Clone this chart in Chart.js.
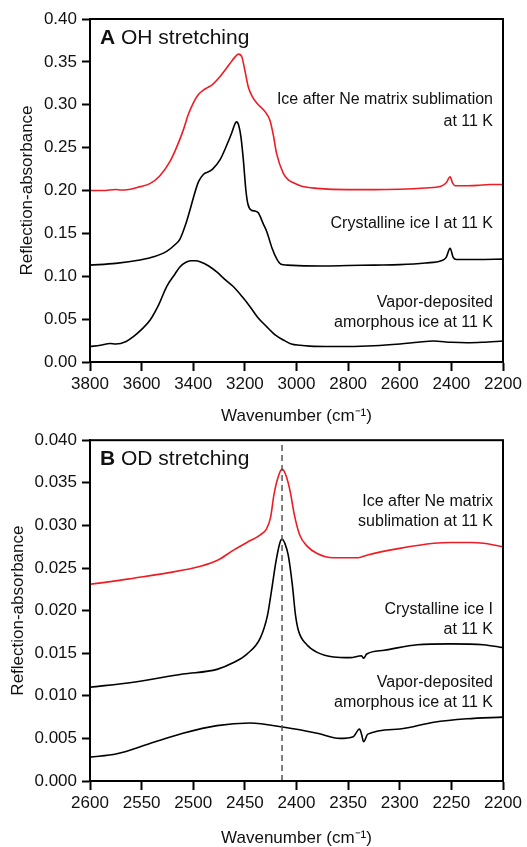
<!DOCTYPE html>
<html>
<head>
<meta charset="utf-8">
<script src="https://cdn.jsdelivr.net/npm/chart.js@4.4.1/dist/chart.umd.min.js"></script>
<style>
  html, body { margin: 0; padding: 0; background: #fff; }
  #wrap { position: relative; width: 527px; height: 847px; }
  #ohCanvas { position: absolute; left: 0; top: 0; }
  #odCanvas { position: absolute; left: 0; top: 425px; }
</style>
</head>
<body>
<div id="wrap">
  <canvas id="ohCanvas" width="527" height="425"></canvas>
  <canvas id="odCanvas" width="527" height="422"></canvas>
</div>
<script>
"use strict";

// ---- Panel A: OH stretching (wavenumber, reflection-absorbance) ----
const ohIceNeX = [3800, 3750, 3700, 3680, 3650, 3606, 3568, 3530, 3490, 3465, 3438, 3420, 3400, 3380, 3361, 3345, 3328, 3296, 3258, 3240, 3225, 3212, 3200, 3187, 3170, 3154, 3122, 3103, 3090, 3077, 3051, 3030, 3012, 2980, 2921, 2800, 2700, 2600, 2500, 2440, 2420, 2405, 2395, 2385, 2350, 2300, 2250, 2200];
const ohIceNeY = [0.200, 0.200, 0.2012, 0.2005, 0.2012, 0.2045, 0.208, 0.217, 0.234, 0.250, 0.271, 0.288, 0.302, 0.312, 0.317, 0.320, 0.323, 0.333, 0.348, 0.355, 0.359, 0.356, 0.340, 0.321, 0.309, 0.302, 0.292, 0.282, 0.265, 0.243, 0.220, 0.212, 0.209, 0.205, 0.2025, 0.201, 0.201, 0.2015, 0.203, 0.205, 0.209, 0.216, 0.2085, 0.2055, 0.2055, 0.206, 0.207, 0.207];

const ohCrystX = [3800, 3700, 3606, 3550, 3503, 3470, 3452, 3430, 3413, 3400, 3380, 3360, 3340, 3325, 3296, 3270, 3250, 3238, 3232, 3224, 3215, 3206, 3196, 3188, 3175, 3160, 3148, 3130, 3115, 3095, 3076, 3060, 3037, 2900, 2800, 2700, 2600, 2500, 2440, 2420, 2405, 2393, 2380, 2300, 2200];
const ohCrystY = [0.113, 0.115, 0.119, 0.123, 0.129, 0.137, 0.143, 0.160, 0.177, 0.191, 0.210, 0.219, 0.222, 0.225, 0.236, 0.253, 0.268, 0.278, 0.280, 0.276, 0.262, 0.236, 0.200, 0.184, 0.177, 0.176, 0.174, 0.162, 0.152, 0.133, 0.120, 0.114, 0.113, 0.112, 0.1125, 0.113, 0.1135, 0.1155, 0.118, 0.122, 0.1326, 0.122, 0.1195, 0.1195, 0.120];

const ohAmorphX = [3800, 3760, 3722, 3700, 3660, 3632, 3600, 3567, 3535, 3503, 3470, 3451, 3430, 3410, 3390, 3374, 3340, 3309, 3280, 3245, 3210, 3180, 3150, 3115, 3080, 3051, 3020, 2986, 2950, 2857, 2700, 2599, 2530, 2470, 2400, 2340, 2280, 2200];
const ohAmorphY = [0.018, 0.0195, 0.0215, 0.021, 0.024, 0.0295, 0.038, 0.049, 0.066, 0.088, 0.103, 0.111, 0.116, 0.118, 0.118, 0.117, 0.112, 0.105, 0.097, 0.088, 0.076, 0.0645, 0.052, 0.041, 0.031, 0.0257, 0.021, 0.0195, 0.0185, 0.018, 0.019, 0.021, 0.023, 0.0245, 0.023, 0.0225, 0.023, 0.0245];

// ---- Panel B: OD stretching ----
const odIceNeX = [2600, 2580, 2558, 2526, 2493, 2475, 2461, 2448, 2435, 2429, 2425, 2422, 2418, 2414, 2410, 2406, 2402, 2397, 2390, 2380, 2364, 2350, 2340, 2332, 2300, 2267, 2251, 2230, 2219, 2200];
const odIceNeY = [0.0231, 0.0234, 0.0238, 0.0244, 0.0252, 0.0260, 0.0271, 0.0280, 0.0289, 0.0296, 0.0310, 0.0335, 0.0356, 0.0366, 0.0358, 0.0339, 0.0312, 0.0289, 0.0276, 0.0267, 0.0262, 0.0262, 0.0262, 0.0265, 0.0273, 0.0279, 0.0280, 0.0280, 0.0279, 0.0275];

const odCrystX = [2600, 2558, 2510, 2477, 2461, 2448, 2435, 2428, 2424, 2420, 2416, 2414, 2411, 2408, 2404, 2401, 2398, 2390, 2380, 2364, 2348, 2337, 2335, 2332, 2315, 2283, 2251, 2219, 2200];
const odCrystY = [0.0110, 0.0116, 0.01255, 0.0131, 0.0139, 0.0149, 0.0168, 0.0195, 0.0225, 0.0257, 0.0280, 0.0284, 0.0278, 0.0265, 0.0230, 0.0195, 0.0176, 0.0160, 0.0151, 0.01456, 0.01448, 0.0147, 0.0144, 0.0149, 0.01534, 0.0160, 0.0161, 0.0160, 0.01565];

const odAmorphX = [2600, 2574, 2542, 2510, 2477, 2445, 2412, 2380, 2358, 2345, 2339, 2337, 2335, 2331, 2300, 2267, 2235, 2200];
const odAmorphY = [0.0028, 0.0032, 0.0044, 0.0056, 0.0065, 0.0068, 0.0063, 0.0056, 0.0050, 0.0052, 0.0061, 0.0055, 0.0046, 0.0055, 0.0061, 0.0069, 0.0073, 0.0075];

// OD peak marker (dashed line)
const odPeakX = [2414, 2414];
const odPeakY = [0, 0.040];

// axis ranges / ticks
const ohXRange = [2200, 3800], ohXStep = 200;
const ohYRange = [0, 0.40], ohYStep = 0.05;
const odXRange = [2200, 2600], odXStep = 50;
const odYRange = [0, 0.040], odYStep = 0.005;

// text labels: lines and their y value (right aligned in plot)
const ohLabelText = ['Ice after Ne matrix sublimation', 'at 11 K', 'Crystalline ice I at 11 K', 'Vapor-deposited', 'amorphous ice at 11 K'];
const ohLabelY    = [0.3055, 0.2802, 0.1617, 0.0688, 0.0458];
const odLabelText = ['Ice after Ne matrix', 'sublimation at 11 K', 'Crystalline ice I', 'at 11 K', 'Vapor-deposited', 'amorphous ice at 11 K'];
const odLabelY    = [0.03274, 0.03049, 0.02012, 0.01779, 0.01157, 0.00924];

const FONT = "'Liberation Sans', Arial, Helvetica, sans-serif";
const RED = '#ee1c24';

const pairs = (xs, ys) => xs.map((x, i) => ({ x, y: ys[i] }));

function curve(xs, ys, color) {
  return {
    data: pairs(xs, ys),
    borderColor: color,
    borderWidth: 1.6,
    pointRadius: 0,
    fill: false,
    cubicInterpolationMode: 'monotone'
  };
}

// frame + annotation text
const panelDecor = {
  id: 'panelDecor',
  afterDraw(chart, args, opts) {
    const { ctx, chartArea: a, scales } = chart;
    ctx.save();
    ctx.strokeStyle = '#000';
    ctx.lineWidth = 2;
    ctx.strokeRect(a.left, a.top, a.right - a.left, a.bottom - a.top);

    ctx.fillStyle = '#111';
    ctx.textAlign = 'right';
    ctx.textBaseline = 'middle';
    ctx.font = '16px ' + FONT;
    opts.text.forEach((t, i) => {
      ctx.fillText(t, a.right - 10, scales.y.getPixelForValue(opts.ty[i]));
    });

    // panel title: bold letter + normal text
    const ty = scales.y.getPixelForValue(opts.titleY);
    ctx.textAlign = 'left';
    ctx.font = 'bold 21px ' + FONT;
    ctx.fillText(opts.letter, a.left + 10, ty);
    const w = ctx.measureText(opts.letter + ' ').width;
    ctx.font = '21px ' + FONT;
    ctx.fillText(opts.title, a.left + 10 + w, ty);
    ctx.restore();
  }
};

function makeOptions(xr, xs, yr, ys, dec, xHeight, padTop, yTitlePad, decor) {
  const tickFont = { family: FONT, size: 17 };
  return {
    responsive: false,
    animation: false,
    devicePixelRatio: 1,
    layout: { padding: { top: padTop, right: 24, left: 0, bottom: 0 } },
    plugins: { legend: { display: false }, tooltip: { enabled: false }, panelDecor: decor },
    scales: {
      x: {
        type: 'linear', reverse: true, min: xr[0], max: xr[1],
        afterFit: s => { s.height = xHeight; },
        ticks: { stepSize: xs, color: '#111', font: tickFont, padding: 3, maxRotation: 0, callback: v => String(v) },
        grid: { drawOnChartArea: false, tickLength: 9, tickColor: '#000', tickWidth: 2 },
        border: { color: '#000', width: 2 },
        title: { display: true, text: 'Wavenumber (cm⁻¹)', color: '#111', font: { family: FONT, size: 17, lineHeight: 1 }, padding: { top: 0, bottom: 0 } }
      },
      y: {
        type: 'linear', min: yr[0], max: yr[1],
        afterFit: s => { s.width = 90; },
        ticks: { stepSize: ys, color: '#111', font: tickFont, padding: 5, callback: v => v.toFixed(dec) },
        grid: { drawOnChartArea: false, tickLength: 8, tickColor: '#000', tickWidth: 2 },
        border: { color: '#000', width: 2 },
        title: { display: true, text: 'Reflection-absorbance', color: '#111', font: { family: FONT, size: 17, lineHeight: 1 }, padding: { top: yTitlePad, bottom: 0 } }
      }
    }
  };
}

new Chart(document.getElementById('ohCanvas'), {
  type: 'line',
  data: {
    datasets: [
      curve(ohIceNeX, ohIceNeY, RED),
      curve(ohCrystX, ohCrystY, '#000'),
      curve(ohAmorphX, ohAmorphY, '#000')
    ]
  },
  options: makeOptions(ohXRange, ohXStep, ohYRange, ohYStep, 2, 63, 19, 19,
    { text: ohLabelText, ty: ohLabelY, letter: 'A', title: 'OH stretching', titleY: 0.3775 }),
  plugins: [panelDecor]
});

new Chart(document.getElementById('odCanvas'), {
  type: 'line',
  data: {
    datasets: [
      {
        data: pairs(odPeakX, odPeakY),
        borderColor: '#555', borderWidth: 1.5, borderDash: [6, 4], pointRadius: 0, fill: false
      },
      curve(odIceNeX, odIceNeY, RED),
      curve(odCrystX, odCrystY, '#000'),
      curve(odAmorphX, odAmorphY, '#000')
    ]
  },
  options: makeOptions(odXRange, odXStep, odYRange, odYStep, 3, 66, 13, 10,
    { text: odLabelText, ty: odLabelY, letter: 'B', title: 'OD stretching', titleY: 0.0378 }),
  plugins: [panelDecor]
});
</script>
</body>
</html>
